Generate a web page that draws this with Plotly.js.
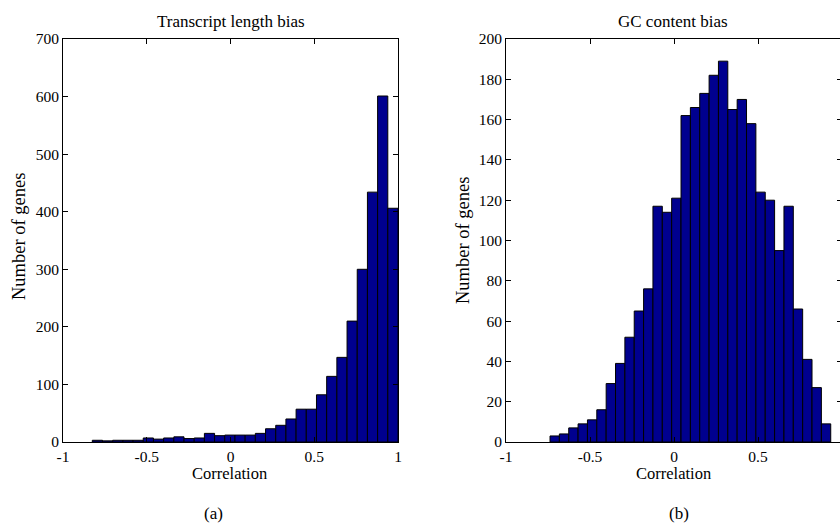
<!DOCTYPE html>
<html>
<head>
<meta charset="utf-8">
<script src="https://cdn.plot.ly/plotly-3.0.1.min.js"></script>
<style>
html,body{margin:0;padding:0;overflow:hidden;background:#fff;}
#chart{width:850px;height:525px;}
</style>
</head>
<body>
<div id="chart"></div>
<script>
// Histogram (a): transcript length bias
const lengthRange = [-0.825, 1];
const lengthCounts = [3, 2, 3, 3, 3, 7, 5, 7, 9, 6, 7, 15, 11, 12, 12, 12, 15, 23, 29, 40, 57, 57, 82, 114, 147, 210, 300, 434, 601, 406];
// Histogram (b): GC content bias
const gcRange = [-0.738, 0.933];
const gcCounts = [3, 4, 7, 9, 11, 16, 29, 39, 52, 65, 76, 117, 114, 121, 162, 166, 173, 182, 189, 165, 170, 158, 124, 120, 95, 117, 66, 41, 27, 9];
const xTicks = [-1, -0.5, 0, 0.5, 1];
const xTickLabelsA = ['-1', '-0.5', '0', '0.5', '1'];
const xTickLabelsB = ['-1', '-0.5', '0', '0.5', ''];
const yTicksA = [0, 100, 200, 300, 400, 500, 600, 700];
const yTicksB = [0, 20, 40, 60, 80, 100, 120, 140, 160, 180, 200];
const titles = ['Transcript length bias', 'GC content bias'];
const xTitle = 'Correlation';
const yTitle = 'Number of genes';
const panelLabels = ['(a)', '(b)'];

const W = 850, H = 525;
const px = x => x / W;
const py = y => 1 - y / H;

function centers(range, n) {
  const w = (range[1] - range[0]) / n;
  return {w: w, c: Array.from({length: n}, (_, i) => range[0] + (i + 0.5) * w)};
}
const a = centers(lengthRange, lengthCounts.length);
const b = centers(gcRange, gcCounts.length);

const barStyle = {color: '#00008F', line: {color: '#000000', width: 1}};
const traces = [
  {type: 'bar', x: a.c, y: lengthCounts, width: a.w, marker: barStyle, xaxis: 'x', yaxis: 'y', hoverinfo: 'skip'},
  {type: 'bar', x: b.c, y: gcCounts, width: b.w, marker: barStyle, xaxis: 'x2', yaxis: 'y2', hoverinfo: 'skip'}
];

const fam = '"Liberation Serif", "Times New Roman", serif';
const f = s => ({family: fam, color: '#000', size: s});
const axBase = {
  showline: true, linecolor: '#000', linewidth: 1, mirror: 'allticks',
  ticks: 'inside', ticklen: 5, tickcolor: '#000', tickwidth: 1,
  showgrid: false, zeroline: false, tickfont: f(15.5), fixedrange: true
};
const yDom = [py(442), py(39)];

function ann(text, x, y, size, angle) {
  return {text: text, x: px(x), y: py(y), xref: 'paper', yref: 'paper', xanchor: 'center', yanchor: 'middle',
          showarrow: false, textangle: angle || 0, font: f(size)};
}

const layout = {
  width: W, height: H,
  margin: {l: 0, r: 0, t: 0, b: 0},
  paper_bgcolor: '#fff', plot_bgcolor: '#fff',
  showlegend: false, bargap: 0,
  font: f(16),
  xaxis: Object.assign({}, axBase, {domain: [px(63), px(398)], range: [-1, 1], tickvals: xTicks, ticktext: xTickLabelsA, anchor: 'y'}),
  yaxis: Object.assign({}, axBase, {domain: yDom, range: [0, 700], tickvals: yTicksA, anchor: 'x'}),
  xaxis2: Object.assign({}, axBase, {domain: [px(506), px(842)], range: [-1, 1], tickvals: xTicks, ticktext: xTickLabelsB, anchor: 'y2'}),
  yaxis2: Object.assign({}, axBase, {domain: yDom, range: [0, 200], tickvals: yTicksB, anchor: 'x2'}),
  annotations: [
    ann(titles[0], 231, 21, 17),
    ann(titles[1], 673, 21, 17),
    ann(xTitle, 230, 474, 16.5),
    ann(xTitle, 673, 474, 16.5),
    ann(yTitle, 19, 237, 18.5, -90),
    ann(yTitle, 463, 241, 18.5, -90),
    ann(panelLabels[0], 213, 513, 17),
    ann(panelLabels[1], 679, 513, 17)
  ]
};

Plotly.newPlot('chart', traces, layout, {displayModeBar: false, staticPlot: true});
</script>
</body>
</html>
